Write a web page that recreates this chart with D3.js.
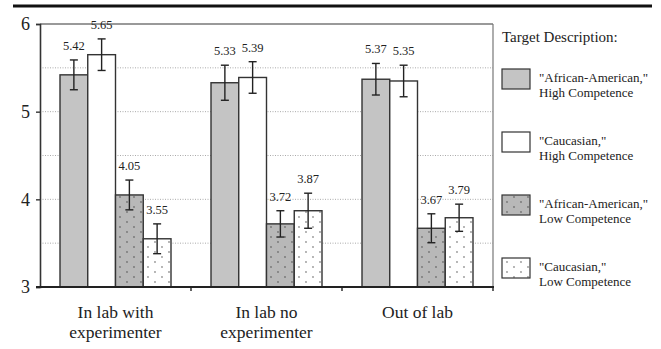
<!DOCTYPE html>
<html>
<head>
<meta charset="utf-8">
<title>Target Description chart</title>
<script src="https://d3js.org/d3.v7.min.js"></script>
<style>
  body { margin: 0; background: #fff; }
</style>
</head>
<body>
<svg id="chart" width="661" height="349"></svg>
<script>
// data
const categories = [["In lab with", "experimenter"], ["In lab no", "experimenter"], ["Out of lab"]];
const seriesNames = [
  ['"African-American,"', "High Competence"],
  ['"Caucasian,"', "High Competence"],
  ['"African-American,"', "Low Competence"],
  ['"Caucasian,"', "Low Competence"]
];
const aaHigh = [5.42, 5.33, 5.37];
const cauHigh = [5.65, 5.39, 5.35];
const aaLow = [4.05, 3.72, 3.67];
const cauLow = [3.55, 3.87, 3.79];
const aaHighErr = [0.17, 0.20, 0.18];
const cauHighErr = [0.18, 0.18, 0.18];
const aaLowErr = [0.17, 0.15, 0.165];
const cauLowErr = [0.17, 0.20, 0.155];
const yTicks = [3, 4, 5, 6];
const gridValues = [3.5, 4, 4.5, 5, 5.5];

const values = [aaHigh, cauHigh, aaLow, cauLow];
const errs = [aaHighErr, cauHighErr, aaLowErr, cauLowErr];
const fills = ["#c4c4c4", "#ffffff", "url(#dotsDark)", "url(#dotsLight)"];
const FONT = "'Liberation Serif', 'Times New Roman', serif";
const INK = "#222";

const svg = d3.select("#chart");
const mLeft = 40, mRight = 493, mTop = 24, mBottom = 287;

// every text gets the serif face set on itself
function label(sel, size) {
  return sel.attr("font-family", "Liberation Serif")
    .style("font-family", FONT)
    .attr("font-size", size).attr("fill", INK);
}

// dot patterns
const defs = svg.append("defs");
function dotPattern(id, bg) {
  const p = defs.append("pattern").attr("id", id)
    .attr("patternUnits", "userSpaceOnUse").attr("width", 14).attr("height", 10);
  p.append("rect").attr("width", 14).attr("height", 10).attr("fill", bg);
  p.append("circle").attr("cx", 3).attr("cy", 2).attr("r", 0.65).attr("fill", "#333");
  p.append("circle").attr("cx", 10).attr("cy", 7).attr("r", 0.65).attr("fill", "#333");
}
dotPattern("dotsDark", "#b8b8b8");
dotPattern("dotsLight", "#ffffff");

const x = d3.scaleBand().domain(d3.range(categories.length)).range([mLeft, mRight]);
const xi = d3.scaleBand().domain(d3.range(seriesNames.length)).range([20, x.bandwidth() - 20]);
const y = d3.scaleLinear().domain([3, 6]).range([mBottom, mTop]);

// top rule
svg.append("line").attr("x1", 13).attr("x2", 652).attr("y1", 6).attr("y2", 6)
  .attr("stroke", "#111").attr("stroke-width", 3);

// grid
svg.selectAll(".grid").data(gridValues).join("line")
  .attr("x1", mLeft).attr("x2", mRight)
  .attr("y1", d => y(d)).attr("y2", d => y(d))
  .attr("stroke", "#aaa").attr("stroke-width", 1).attr("stroke-dasharray", "1,1.5");

// frame top and right
svg.append("line").attr("x1", mLeft).attr("x2", mRight).attr("y1", mTop).attr("y2", mTop)
  .attr("stroke", "#999").attr("stroke-width", 2);
svg.append("line").attr("x1", mRight).attr("x2", mRight).attr("y1", mTop).attr("y2", mBottom)
  .attr("stroke", "#777").attr("stroke-width", 1.2);

// bars
const groups = svg.selectAll(".grp").data(categories).join("g")
  .attr("transform", (d, i) => `translate(${x(i)},0)`);

groups.each(function(cat, ci) {
  const g = d3.select(this);
  values.forEach((vals, si) => {
    const v = vals[ci], e = errs[si][ci];
    const bx = xi(si), bw = xi.bandwidth(), cx = bx + bw / 2;
    g.append("rect").attr("x", bx).attr("y", y(v))
      .attr("width", bw).attr("height", y(3) - y(v))
      .attr("fill", fills[si]).attr("stroke", "#333").attr("stroke-width", 1.4);
    g.append("line").attr("x1", cx).attr("x2", cx).attr("y1", y(v + e)).attr("y2", y(v - e))
      .attr("stroke", "#222").attr("stroke-width", 1.4);
    [v + e, v - e].forEach(t => {
      g.append("line").attr("x1", cx - 4).attr("x2", cx + 4).attr("y1", y(t)).attr("y2", y(t))
        .attr("stroke", "#222").attr("stroke-width", 1.4);
    });
    label(g.append("text"), 12.5)
      .attr("x", cx).attr("y", y(v + e) - 10)
      .attr("text-anchor", "middle")
      .text(v.toFixed(2));
  });
});

// left axis
const yAxis = svg.append("g").attr("transform", `translate(${mLeft},0)`)
  .call(d3.axisLeft(y).tickValues(yTicks).tickSize(4).tickFormat(d3.format("d")));
yAxis.attr("font-family", "Liberation Serif");
yAxis.select(".domain").attr("stroke", "#333").attr("stroke-width", 1.6);
yAxis.selectAll(".tick line").attr("stroke", "#333").attr("stroke-width", 1.4);
label(yAxis.selectAll(".tick text"), 18).attr("x", -10);

// bottom axis line and boundary ticks
svg.append("line").attr("x1", mLeft - 4).attr("x2", mRight + 1).attr("y1", mBottom).attr("y2", mBottom)
  .attr("stroke", "#222").attr("stroke-width", 2);
svg.selectAll(".bt").data(d3.range(1, categories.length + 1)).join("line")
  .attr("x1", d => d < categories.length ? x(d) : mRight)
  .attr("x2", d => d < categories.length ? x(d) : mRight)
  .attr("y1", mBottom).attr("y2", mBottom + 4)
  .attr("stroke", "#222").attr("stroke-width", 1.4);

// category labels, one text per line
categories.forEach((lines, i) => {
  lines.forEach((ln, k) => {
    label(svg.append("text"), 17.5)
      .attr("x", x(i) + x.bandwidth() / 2).attr("y", 318 + k * 20)
      .attr("text-anchor", "middle").text(ln);
  });
});

// legend
label(svg.append("text"), 15).attr("x", 502).attr("y", 42).text("Target Description:");
seriesNames.forEach((lines, i) => {
  const gy = 69 + i * 63;
  svg.append("rect").attr("x", 502).attr("y", gy).attr("width", 28).attr("height", 20)
    .attr("fill", fills[i]).attr("stroke", "#333").attr("stroke-width", 1.2);
  lines.forEach((ln, k) => {
    label(svg.append("text"), 13)
      .attr("x", 539).attr("y", gy + 12.5 + k * 15.5).text(ln);
  });
});
</script>
</body>
</html>
